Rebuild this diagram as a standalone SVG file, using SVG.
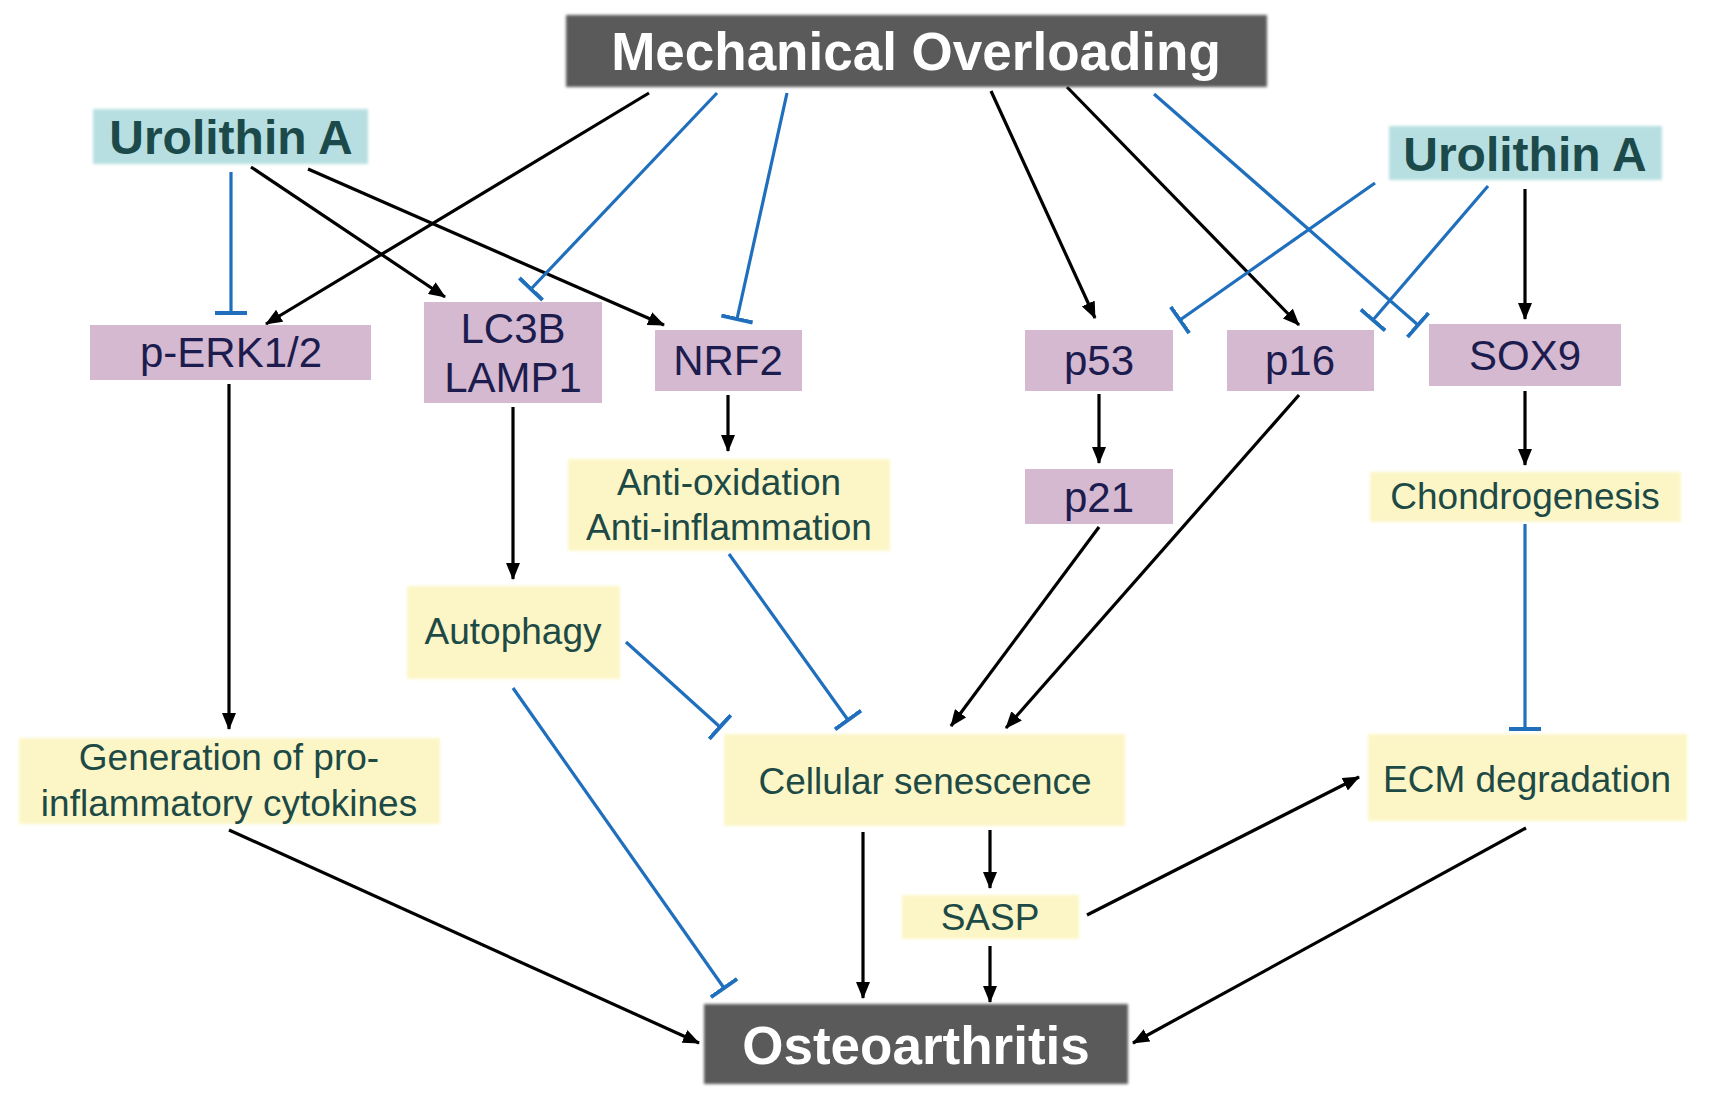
<svg xmlns="http://www.w3.org/2000/svg" width="1712" height="1096" viewBox="0 0 1712 1096">
<style>
.gray{fill:#5a5a5a}
.teal{fill:#b7dfe1}
.purple{fill:#d5b9d1}
.yellow{fill:#fcf6c6}
.tw{font-family:"Liberation Sans",Arial,sans-serif;font-weight:bold;fill:#ffffff;text-anchor:middle}
.tt{font-family:"Liberation Sans",Arial,sans-serif;font-weight:bold;fill:#1c4a4b;text-anchor:middle;font-size:48px}
.tp{font-family:"Liberation Sans",Arial,sans-serif;fill:#1c1c4e;text-anchor:middle;font-size:42px}
.ty{font-family:"Liberation Sans",Arial,sans-serif;fill:#1e4a46;text-anchor:middle;font-size:37px}
.act{stroke:#000;stroke-width:3.2;fill:none;marker-end:url(#arr)}
.inh{stroke:#1f6fbd;stroke-width:3.2;fill:none;marker-end:url(#tbar)}
</style>
<defs>
<filter id="soft" x="-5%" y="-10%" width="110%" height="120%"><feGaussianBlur stdDeviation="1.5"/></filter>
<marker id="arr" markerUnits="userSpaceOnUse" markerWidth="18" markerHeight="14" refX="16" refY="7" orient="auto"><path d="M0,0 L17,7 L0,14 z" fill="#000"/></marker>
<marker id="tbar" markerUnits="userSpaceOnUse" markerWidth="6" markerHeight="34" refX="2" refY="17" orient="auto"><path d="M2,1 L2,33" stroke="#1f6fbd" stroke-width="4"/></marker>
</defs>
<rect width="1712" height="1096" fill="#fff"/>
<g id="connectors">
<line class="act" x1="649" y1="93" x2="266" y2="324"/>
<line class="act" x1="251" y1="167" x2="445" y2="297"/>
<line class="act" x1="308" y1="169" x2="664" y2="325"/>
<line class="act" x1="991" y1="91" x2="1095" y2="318"/>
<line class="act" x1="1067" y1="87" x2="1299" y2="325"/>
<line class="act" x1="1525" y1="189" x2="1525" y2="319"/>
<line class="act" x1="229" y1="384" x2="229" y2="729"/>
<line class="act" x1="513" y1="407" x2="513" y2="579"/>
<line class="act" x1="728" y1="395" x2="728" y2="451"/>
<line class="act" x1="1099" y1="394" x2="1099" y2="463"/>
<line class="act" x1="1525" y1="391" x2="1525" y2="465"/>
<line class="act" x1="1099" y1="527" x2="951" y2="726"/>
<line class="act" x1="1299" y1="395" x2="1006" y2="728"/>
<line class="act" x1="229" y1="830" x2="699" y2="1043"/>
<line class="act" x1="863" y1="832" x2="863" y2="998"/>
<line class="act" x1="990" y1="830" x2="990" y2="888"/>
<line class="act" x1="990" y1="946" x2="990" y2="1002"/>
<line class="act" x1="1087" y1="915" x2="1359" y2="777"/>
<line class="act" x1="1526" y1="828" x2="1133" y2="1043"/>
<line class="inh" x1="231" y1="172" x2="231" y2="313"/>
<line class="inh" x1="717" y1="93" x2="531" y2="289"/>
<line class="inh" x1="787" y1="93" x2="737" y2="319"/>
<line class="inh" x1="1375" y1="183" x2="1180" y2="320"/>
<line class="inh" x1="1488" y1="186" x2="1373" y2="320"/>
<line class="inh" x1="1154" y1="94" x2="1418" y2="325"/>
<line class="inh" x1="1525" y1="524" x2="1525" y2="729"/>
<line class="inh" x1="729" y1="554" x2="848" y2="720"/>
<line class="inh" x1="626" y1="642" x2="720" y2="727"/>
<line class="inh" x1="513" y1="688" x2="724" y2="988"/>
</g>
<g id="mechanical-overloading"><rect class="gray" x="566" y="15" width="701" height="72" filter="url(#soft)"/><text class="tw" x="916" y="70" font-size="53">Mechanical Overloading</text></g>
<g id="urolithin-a-left"><rect class="teal" x="93" y="109" width="275" height="55" filter="url(#soft)"/><text class="tt" x="231" y="154">Urolithin A</text></g>
<g id="urolithin-a-right"><rect class="teal" x="1389" y="126" width="273" height="54" filter="url(#soft)"/><text class="tt" x="1525" y="171">Urolithin A</text></g>
<g id="p-erk"><rect class="purple" x="90" y="325" width="281" height="55"/><text class="tp" x="231" y="367">p-ERK1/2</text></g>
<g id="lc3b-lamp1"><rect class="purple" x="424" y="302" width="178" height="101"/><text class="tp" x="513" y="343">LC3B</text><text class="tp" x="513" y="392">LAMP1</text></g>
<g id="nrf2"><rect class="purple" x="655" y="330" width="147" height="61"/><text class="tp" x="728" y="375">NRF2</text></g>
<g id="p53"><rect class="purple" x="1025" y="330" width="148" height="61"/><text class="tp" x="1099" y="375">p53</text></g>
<g id="p16"><rect class="purple" x="1227" y="330" width="147" height="61"/><text class="tp" x="1300" y="375">p16</text></g>
<g id="sox9"><rect class="purple" x="1429" y="324" width="192" height="62"/><text class="tp" x="1525" y="370">SOX9</text></g>
<g id="p21"><rect class="purple" x="1025" y="469" width="148" height="55"/><text class="tp" x="1099" y="512">p21</text></g>
<g id="anti-oxidation"><rect class="yellow" x="568" y="459" width="322" height="92" filter="url(#soft)"/><text class="ty" x="729" y="495">Anti-oxidation</text><text class="ty" x="729" y="540">Anti-inflammation</text></g>
<g id="chondrogenesis"><rect class="yellow" x="1370" y="472" width="311" height="50" filter="url(#soft)"/><text class="ty" x="1525" y="509">Chondrogenesis</text></g>
<g id="autophagy"><rect class="yellow" x="407" y="586" width="213" height="93" filter="url(#soft)"/><text class="ty" x="513" y="644">Autophagy</text></g>
<g id="generation"><rect class="yellow" x="19" y="738" width="421" height="86" filter="url(#soft)"/><text class="ty" x="229" y="770">Generation of pro-</text><text class="ty" x="229" y="816">inflammatory cytokines</text></g>
<g id="cellular-senescence"><rect class="yellow" x="724" y="734" width="401" height="92" filter="url(#soft)"/><text class="ty" x="925" y="794">Cellular senescence</text></g>
<g id="ecm-degradation"><rect class="yellow" x="1368" y="734" width="319" height="87" filter="url(#soft)"/><text class="ty" x="1527" y="792">ECM degradation</text></g>
<g id="sasp"><rect class="yellow" x="902" y="895" width="177" height="44" filter="url(#soft)"/><text class="ty" x="990" y="930">SASP</text></g>
<g id="osteoarthritis"><rect class="gray" x="704" y="1004" width="424" height="80" filter="url(#soft)"/><text class="tw" x="916" y="1064" font-size="53">Osteoarthritis</text></g>
</svg>
